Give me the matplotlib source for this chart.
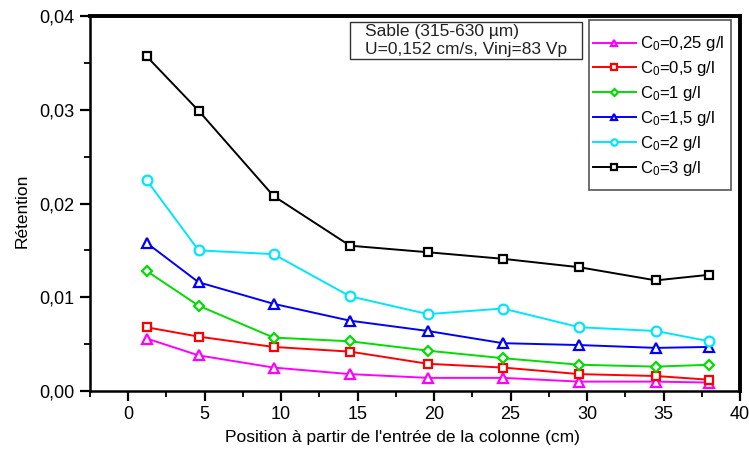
import matplotlib
matplotlib.use("Agg")
import matplotlib.pyplot as plt
from matplotlib.ticker import FuncFormatter, MultipleLocator
from matplotlib.patches import Rectangle

plt.rcParams['font.family'] = ['Liberation Sans', 'DejaVu Sans']
plt.rcParams['mathtext.default'] = 'regular'

positions = [1.2, 4.6, 9.5, 14.5, 19.6, 24.5, 29.5, 34.5, 38.0]
c025 = [0.0056, 0.0038, 0.0025, 0.0018, 0.0014, 0.0014, 0.0010, 0.0010, 0.0009]
c05 = [0.0068, 0.0058, 0.0047, 0.0042, 0.0029, 0.0025, 0.0018, 0.0016, 0.0012]
c1 = [0.0128, 0.0091, 0.0057, 0.0053, 0.0043, 0.0035, 0.0028, 0.0026, 0.0028]
c15 = [0.0158, 0.0116, 0.0093, 0.0075, 0.0064, 0.0051, 0.0049, 0.0046, 0.0047]
c2 = [0.0225, 0.0150, 0.0146, 0.0101, 0.0082, 0.0088, 0.0068, 0.0064, 0.0053]
c3 = [0.0357, 0.0299, 0.0208, 0.0155, 0.0148, 0.0141, 0.0132, 0.0118, 0.0124]

labels = [r'C$_0$=0,25 g/l', r'C$_0$=0,5 g/l', r'C$_0$=1 g/l',
          r'C$_0$=1,5 g/l', r'C$_0$=2 g/l', r'C$_0$=3 g/l']
series = [c025, c05, c1, c15, c2, c3]
colors = ['#ff00ff', '#ff0000', '#00dd00', '#0000ff', '#00e5ff', '#000000']
markers = ['^', 's', 'D', '^', 'o', 's']
msizes = [7, 6, 5.5, 7, 7, 6]

fig = plt.figure(figsize=(7.49, 4.5), dpi=100)
ax = fig.add_axes([90/749, 59/450, 650/749, 375/450])

for y, c, m, ms, lab in zip(series, colors, markers, msizes, labels):
    ax.plot(positions, y, color=c, marker=m, markersize=ms,
            markerfacecolor='white', markeredgecolor=c, markeredgewidth=1.6,
            linewidth=1.4, label=lab)

ax.set_xlim(-2.5, 40)
ax.set_ylim(0, 0.04)
ax.xaxis.set_major_locator(MultipleLocator(5))
ax.xaxis.set_minor_locator(MultipleLocator(2.5))
ax.yaxis.set_major_locator(MultipleLocator(0.01))
ax.yaxis.set_minor_locator(MultipleLocator(0.005))
ax.yaxis.set_major_formatter(FuncFormatter(lambda v, p: f"{v:.2f}".replace('.', ',')))
ax.xaxis.set_major_formatter(FuncFormatter(lambda v, p: f"{v:g}"))
ax.tick_params(direction='out', which='major', length=7, width=1.6, labelsize=13, pad=4)
ax.tick_params(direction='out', which='minor', length=4, width=1.3)
for s in ['left', 'bottom']:
    ax.spines[s].set_linewidth(1.8)
for s in ['top', 'right']:
    ax.spines[s].set_linewidth(2.8)

ax.set_xlabel("Position à partir de l'entrée de la colonne (cm)", fontsize=12.5)
ax.set_ylabel("Rétention", fontsize=12.5)
ax.xaxis.label.set_va('center')
ax.xaxis.set_label_coords(0.48, -0.125)
ax.yaxis.set_label_coords(-0.093, 0.48)

# annotation box
ax.add_patch(Rectangle((0.40, 0.885), 0.357, 0.099, transform=ax.transAxes,
                       facecolor='white', edgecolor='#333333', linewidth=1, zorder=5))
ax.text(0.423, 0.978, "Sable (315-630 µm)\nU=0,152 cm/s, Vinj=83 Vp", transform=ax.transAxes,
        fontsize=12.5, va='top', ha='left', linespacing=1.2, zorder=6, color='#222222')

# legend frame
ax.add_patch(Rectangle((0.768, 0.536), 0.218, 0.453, transform=ax.transAxes,
                       facecolor='white', edgecolor='#555555', linewidth=1.2, zorder=5))
leg = ax.legend(loc='upper left', bbox_to_anchor=(0.768, 0.96), fontsize=12,
                frameon=False, handlelength=2.6, markerscale=0.65,
                handletextpad=0.25, borderpad=0.2, labelspacing=0.35,
                borderaxespad=0)
leg.set_zorder(6)

fig.savefig('out.png', dpi=100)
